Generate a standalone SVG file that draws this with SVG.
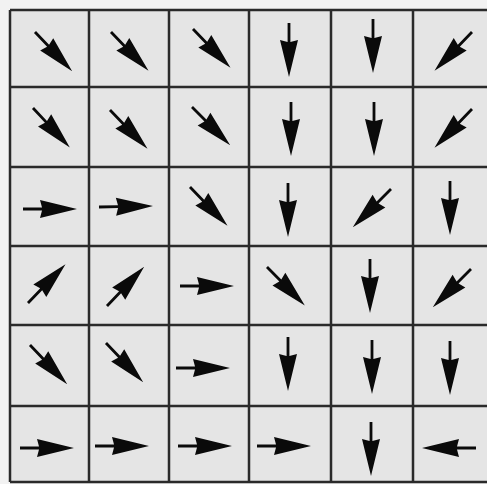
<svg xmlns="http://www.w3.org/2000/svg" xmlns:xlink="http://www.w3.org/1999/xlink" width="487" height="484" viewBox="0 0 487 484">
<style>
.bg{fill:#f2f2f2}
.cells{fill:#e5e5e5}
.grid line{stroke:#2a2a2a;stroke-width:2.5}
.a{fill:#0a0a0a}
</style>
<defs>
<path id="arr" d="M0,-1.4 L19,-1.4 L17,-9 L54,0 L17,9 L19,1.4 L0,1.4 Z"/>
</defs>
<rect class="bg" x="0" y="0" width="487" height="484"/>
<rect class="cells" x="10" y="10" width="477" height="472"/>
<g id="grid" class="grid">
<line x1="10" y1="10" x2="487" y2="10"/>
<line x1="10" y1="87" x2="487" y2="87"/>
<line x1="10" y1="167" x2="487" y2="167"/>
<line x1="10" y1="246" x2="487" y2="246"/>
<line x1="10" y1="325" x2="487" y2="325"/>
<line x1="10" y1="406" x2="487" y2="406"/>
<line x1="10" y1="482" x2="487" y2="482"/>
<line x1="10" y1="10" x2="10" y2="482"/>
<line x1="89" y1="10" x2="89" y2="482"/>
<line x1="169" y1="10" x2="169" y2="482"/>
<line x1="249" y1="10" x2="249" y2="482"/>
<line x1="331" y1="10" x2="331" y2="482"/>
<line x1="413" y1="10" x2="413" y2="482"/>
</g>
<g id="arrows" class="a">
<g id="r0c0"><use xlink:href="#arr" transform="translate(35,32) rotate(46.5)"/></g>
<g id="r0c1"><use xlink:href="#arr" transform="translate(111,32) rotate(46)"/></g>
<g id="r0c2"><use xlink:href="#arr" transform="translate(193,29) rotate(46)"/></g>
<g id="r0c3"><use xlink:href="#arr" transform="translate(289,23) rotate(90)"/></g>
<g id="r0c4"><use xlink:href="#arr" transform="translate(373,19) rotate(90)"/></g>
<g id="r0c5"><use xlink:href="#arr" transform="translate(472,32) rotate(134)"/></g>
<g id="r1c0"><use xlink:href="#arr" transform="translate(33,108) rotate(47)"/></g>
<g id="r1c1"><use xlink:href="#arr" transform="translate(110,110) rotate(46)"/></g>
<g id="r1c2"><use xlink:href="#arr" transform="translate(192,107) rotate(45)"/></g>
<g id="r1c3"><use xlink:href="#arr" transform="translate(291,102) rotate(90)"/></g>
<g id="r1c4"><use xlink:href="#arr" transform="translate(374,102) rotate(90)"/></g>
<g id="r1c5"><use xlink:href="#arr" transform="translate(472,109) rotate(134)"/></g>
<g id="r2c0"><use xlink:href="#arr" transform="translate(23,209) rotate(0)"/></g>
<g id="r2c1"><use xlink:href="#arr" transform="translate(99,207) rotate(-1)"/></g>
<g id="r2c2"><use xlink:href="#arr" transform="translate(190,187) rotate(46)"/></g>
<g id="r2c3"><use xlink:href="#arr" transform="translate(288,183) rotate(90)"/></g>
<g id="r2c4"><use xlink:href="#arr" transform="translate(391,189) rotate(135)"/></g>
<g id="r2c5"><use xlink:href="#arr" transform="translate(450,181) rotate(90)"/></g>
<g id="r3c0"><use xlink:href="#arr" transform="translate(28,303) rotate(-46)"/></g>
<g id="r3c1"><use xlink:href="#arr" transform="translate(107,306) rotate(-46.5)"/></g>
<g id="r3c2"><use xlink:href="#arr" transform="translate(180,286) rotate(0)"/></g>
<g id="r3c3"><use xlink:href="#arr" transform="translate(267,267) rotate(45.5)"/></g>
<g id="r3c4"><use xlink:href="#arr" transform="translate(370,259) rotate(90)"/></g>
<g id="r3c5"><use xlink:href="#arr" transform="translate(471,269) rotate(135)"/></g>
<g id="r4c0"><use xlink:href="#arr" transform="translate(30,345) rotate(46.5)"/></g>
<g id="r4c1"><use xlink:href="#arr" transform="translate(106,343) rotate(46.5)"/></g>
<g id="r4c2"><use xlink:href="#arr" transform="translate(176,368) rotate(0)"/></g>
<g id="r4c3"><use xlink:href="#arr" transform="translate(288,337) rotate(90)"/></g>
<g id="r4c4"><use xlink:href="#arr" transform="translate(372,340) rotate(90)"/></g>
<g id="r4c5"><use xlink:href="#arr" transform="translate(450,341) rotate(90)"/></g>
<g id="r5c0"><use xlink:href="#arr" transform="translate(20,448) rotate(0)"/></g>
<g id="r5c1"><use xlink:href="#arr" transform="translate(95,446) rotate(0)"/></g>
<g id="r5c2"><use xlink:href="#arr" transform="translate(178,446) rotate(0)"/></g>
<g id="r5c3"><use xlink:href="#arr" transform="translate(257,446) rotate(0)"/></g>
<g id="r5c4"><use xlink:href="#arr" transform="translate(371,422) rotate(90)"/></g>
<g id="r5c5"><use xlink:href="#arr" transform="translate(476,448) rotate(180)"/></g>
</g>
</svg>
